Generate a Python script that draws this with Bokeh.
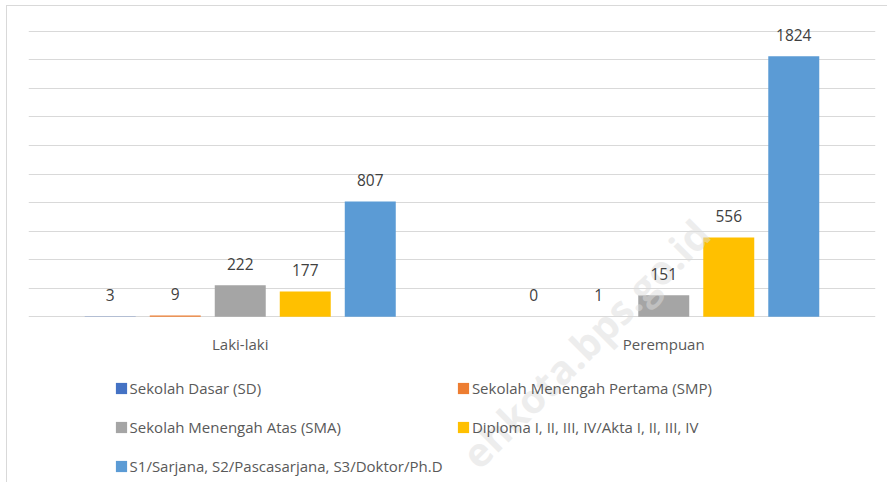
from bokeh.plotting import figure
from bokeh.models import (FactorRange, Range1d, ColumnDataSource, LabelSet, Legend,
                          LegendItem, FixedTicker, Label)
from bokeh.transform import dodge
from bokeh.core.properties import value
from bokeh.embed import file_html
from bokeh.resources import INLINE

# ---- data ----
categories = ["Laki-laki", "Perempuan"]
series_names = [
    "Sekolah Dasar (SD)",
    "Sekolah Menengah Pertama (SMP)",
    "Sekolah Menengah Atas (SMA)",
    "Diploma I, II, III, IV/Akta I, II, III, IV",
    "S1/Sarjana, S2/Pascasarjana, S3/Doktor/Ph.D",
]
sd = [3, 0]
smp = [9, 1]
sma = [222, 151]
diploma = [177, 556]
sarjana = [807, 1824]
y_max = 2000
grid_step = 200
watermark_text = "ehkota.bps.go.id"

# ---- styles ----
colors = ["#4472C4", "#ED7D31", "#A5A5A5", "#FFC000", "#5B9BD5"]
offsets = [-0.307, -0.1535, 0.0, 0.1535, 0.307]
bar_width = 0.1204
FONT = "Open Sans"
view_top = 2173      # room above the top gridline (for data labels)
view_bottom = -1160  # room below the baseline (category labels + legend)

series = [sd, smp, sma, diploma, sarjana]
keys = ["sd", "smp", "sma", "diploma", "sarjana"]
data = {"cat": categories}
for k, vals in zip(keys, series):
    data[k] = vals
    data[k + "_lbl"] = [str(v) for v in vals]
source = ColumnDataSource(data)

p = figure(
    x_range=FactorRange(*categories, range_padding=0, factor_padding=0),
    y_range=Range1d(view_bottom, view_top),
    frame_width=847, frame_height=476,
    output_backend="svg", toolbar_location=None,
    min_border_left=21, min_border_right=12, min_border_top=0, min_border_bottom=0,
    styles={"margin-left": "6px", "margin-top": "5px",
            "border-left": "1px solid #d9d9d9", "border-top": "1px solid #d9d9d9"},
)
p.outline_line_color = None
p.background_fill_color = "white"
p.border_fill_color = "white"

p.xaxis.visible = False
p.yaxis.visible = False
p.xgrid.visible = False
p.ygrid.ticker = FixedTicker(ticks=list(range(0, y_max + 1, grid_step)))
p.ygrid.grid_line_color = "#d9d9d9"
p.ygrid.grid_line_width = 1

renderers = []
for k, off, c in zip(keys, offsets, colors):
    r = p.vbar(x=dodge("cat", off, range=p.x_range), top=k, width=bar_width,
               source=source, fill_color=c, line_color=None)
    renderers.append(r)

# faint diagonal watermark (drawn under the texts)
wm = Label(x=1.315, y=-187, text=watermark_text, angle=45, angle_units="deg",
           text_font=FONT, text_font_style="bold", text_font_size="40px",
           text_color="#dcdcdc", text_alpha=0.5, text_align="center",
           text_baseline="middle")
p.add_layout(wm)

for k, off in zip(keys, offsets):
    labels = LabelSet(x=dodge("cat", off, range=p.x_range), y=k, text=k + "_lbl",
                      source=source, text_align="center", text_baseline="alphabetic",
                      y_offset=15.5, text_font=value(FONT), text_font_size="15.5px",
                      text_color="#404040")
    p.add_layout(labels)

# category labels under the baseline
cat_labels = LabelSet(x="cat", y=0, text="cat", source=source, text_align="center",
                      text_baseline="middle", y_offset=-27, text_font=value(FONT),
                      text_font_size="15px", text_color="#595959")
p.add_layout(cat_labels)

legend_style = dict(orientation="vertical", glyph_width=14, glyph_height=14,
                    label_standoff=2, label_height=21, spacing=18, padding=0, margin=0,
                    label_text_font=FONT, label_text_font_size="15px",
                    label_text_color="#595959", border_line_color=None,
                    background_fill_alpha=0)
col1 = [0, 2, 4]
col2 = [1, 3]
legend1 = Legend(items=[LegendItem(label=series_names[i], renderers=[renderers[i]]) for i in col1],
                 location=(85.6, 5.8), **legend_style)
legend2 = Legend(items=[LegendItem(label=series_names[i], renderers=[renderers[i]]) for i in col2],
                 location=(427.9, 44.7), **legend_style)
p.add_layout(legend1)
p.add_layout(legend2)

open("out.html", "w").write(file_html(p, INLINE))
